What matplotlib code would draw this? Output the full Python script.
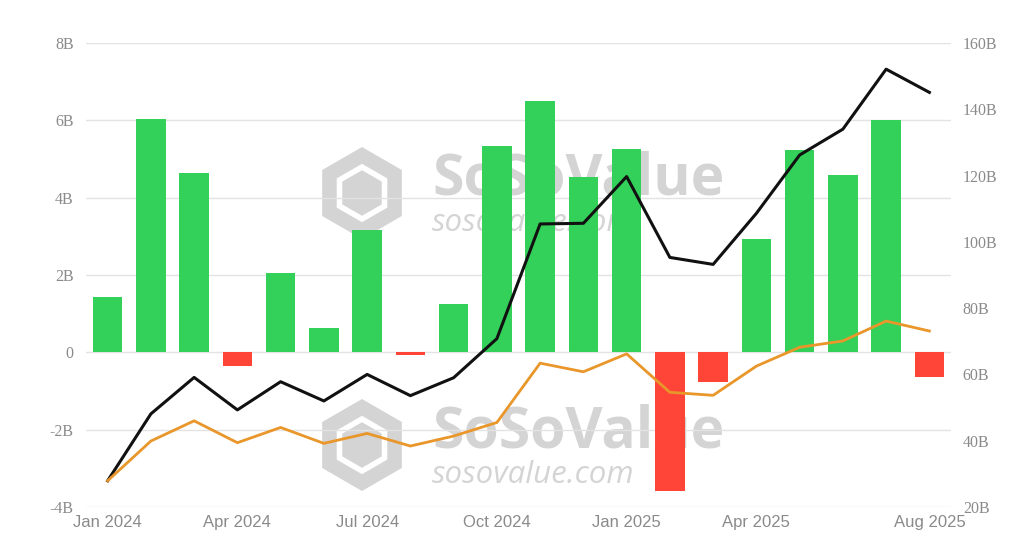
import matplotlib
matplotlib.use("Agg")
import matplotlib.pyplot as plt
from matplotlib.patches import RegularPolygon
from matplotlib.lines import Line2D
import numpy as np

months = ["Jan 2024", "Feb 2024", "Mar 2024", "Apr 2024", "May 2024", "Jun 2024",
          "Jul 2024", "Aug 2024", "Sep 2024", "Oct 2024", "Nov 2024", "Dec 2024",
          "Jan 2025", "Feb 2025", "Mar 2025", "Apr 2025", "May 2025", "Jun 2025",
          "Jul 2025", "Aug 2025"]
net_flow_b = [1.43, 6.03, 4.63, -0.36, 2.05, 0.63, 3.16, -0.08, 1.24, 5.34,
              6.49, 4.53, 5.25, -3.58, -0.78, 2.94, 5.22, 4.59, 6.01, -0.64]
total_assets_b = [27.9, 48.1, 59.1, 49.3, 57.8, 52.0, 60.0, 53.6, 59.0, 70.8,
                  105.4, 105.6, 119.7, 95.3, 93.2, 108.6, 126.2, 134.0, 152.1, 145.1]
cum_inflow_b = [27.9, 39.9, 46.0, 39.4, 44.0, 39.2, 42.2, 38.4, 41.4, 45.5,
                63.4, 60.8, 66.2, 54.6, 53.7, 62.5, 68.2, 70.1, 76.1, 73.1]
xtick_labels = ["Jan 2024", "Apr 2024", "Jul 2024", "Oct 2024", "Jan 2025", "Apr 2025", "Aug 2025"]
left_ticks = [-4, -2, 0, 2, 4, 6, 8]
right_ticks = [20, 40, 60, 80, 100, 120, 140, 160]

GREEN = "#33D15A"
RED = "#FF4438"
BLACK = "#111111"
ORANGE = "#E9962A"
GRID = "#E3E3E3"
TXT = "#8A8A8A"
WM = "#D4D4D4"

fig = plt.figure(figsize=(10.24, 5.51), dpi=100)
ax = fig.add_axes([86/1024, 1-507/551, (951-86)/1024, (507-43)/551])
ax2 = ax.twinx()

x = np.arange(len(months))

H = 5.51  # figure height in inches


def watermark(yc):
    fig.text(432/1024, 1-yc/551, "SoSoValue", fontsize=41, fontweight="bold",
             family="Open Sans", color=WM, va="center", ha="left", zorder=0)
    fig.text(432/1024, 1-(yc+43)/551, "sosovalue.com", fontsize=22.5, style="italic",
             family="Open Sans", color=WM, va="center", ha="left", zorder=0)
    cx, cy = 3.62, H - (yc + 13)/100
    tr = fig.dpi_scale_trans
    fig.patches.append(RegularPolygon((cx, cy), numVertices=6, radius=0.46,
                                      orientation=0, transform=tr, facecolor=WM,
                                      edgecolor="none", zorder=0))
    # cube-like white strokes
    r = 0.26
    angs = [np.pi/2, np.pi/2 + 2*np.pi/3, np.pi/2 + 4*np.pi/3]
    for a in angs:
        fig.lines.append(Line2D([cx, cx - r*np.cos(a)], [cy, cy - r*np.sin(a)],
                                transform=tr, color="white", linewidth=4, zorder=0))
    fig.patches.append(RegularPolygon((cx, cy), numVertices=6, radius=r,
                                      orientation=0, transform=tr, facecolor="none",
                                      edgecolor="white", linewidth=4, zorder=0))

watermark(180)
watermark(432)

ax.set_zorder(1)
ax.patch.set_visible(False)
ax2.set_zorder(2)
ax2.patch.set_visible(False)

colors = [GREEN if v >= 0 else RED for v in net_flow_b]
ax.bar(x, net_flow_b, width=0.68, color=colors, zorder=3)

ax.set_ylim(-4, 8)
ax.set_yticks(left_ticks)
ax.set_yticklabels([("%dB" % t) if t != 0 else "0" for t in left_ticks],
                   family="Liberation Serif", fontsize=11.5, color=TXT)
ax.grid(axis="y", color=GRID, linewidth=1, zorder=0)
ax.set_xlim(-0.5, 19.5)
ax.set_xticks([months.index(m) for m in xtick_labels])
ax.set_xticklabels(xtick_labels, family="Liberation Sans", fontsize=12, color=TXT)

ax2.plot(x, total_assets_b, color=BLACK, linewidth=2.2, zorder=4)
ax2.plot(x, cum_inflow_b, color=ORANGE, linewidth=2.0, zorder=4)
ax2.set_ylim(20, 160)
ax2.set_yticks(right_ticks)
ax2.set_yticklabels(["%dB" % t for t in right_ticks], family="Liberation Serif",
                    fontsize=11.5, color=TXT)

for a in (ax, ax2):
    for s in a.spines.values():
        s.set_visible(False)
    a.tick_params(length=0)
ax.tick_params(axis="y", pad=9)
ax.tick_params(axis="x", pad=6)
ax2.tick_params(axis="y", pad=8.5)

fig.savefig("out.png", dpi=100, facecolor="white")
